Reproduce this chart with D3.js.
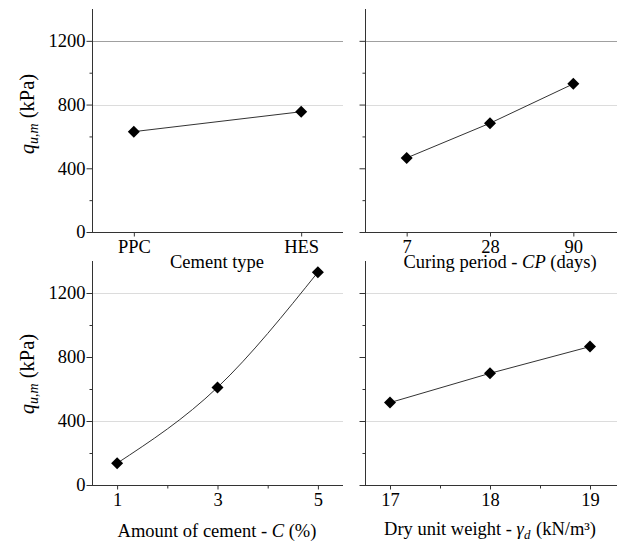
<!DOCTYPE html>
<html><head><meta charset="utf-8">
<script src="https://cdn.jsdelivr.net/npm/d3@7"></script>
<style>
html,body{margin:0;padding:0;background:#fff;}
svg{display:block;}
svg text{font-family:"Liberation Serif","Times New Roman","DejaVu Serif",serif !important;}
</style></head>
<body><svg id="c" width="617" height="544"></svg>
<script>
// ---- data ----
const cementTypes = ["PPC", "HES"];
const cementTypeValues = [630, 755];
const curingPeriods = ["7", "28", "90"];
const curingValues = [465, 683, 930];
const cementAmounts = [1, 3, 5];
const cementAmountValues = [136, 610, 1330];
const dryUnitWeights = [17, 18, 19];
const dryUnitWeightValues = [515, 698, 865];
const yMajorTicks = [0, 400, 800, 1200];
const yMinorTicks = [200, 600, 1000];
const cementAmountMinorTicks = [2, 4];
const dryUnitWeightMinorTicks = [17.5, 18.5];

const svg = d3.select("#c");
const FS = 18.5;

const rows = [
  {top: 9, bottom: 232, grids: [{v:1200, c:"#a0a0a0"}, {v:800, c:"#dcdcdc"}], ylabY: 114},
  {top: 261, bottom: 485, grids: [{v:1200, c:"#dcdcdc"}, {v:400, c:"#dcdcdc"}], ylabY: 374}
];
const cols = [{left: 92, right: 343}, {left: 365, right: 615}];

const panels = [
  {row:0, col:0, type:"point", cats: cementTypes, vals: cementTypeValues, pad: 0.25,
   label: [{t:"Cement type"}], labY: 268, labX: 217, curve: d3.curveLinear, yLabels: true},
  {row:0, col:1, type:"point", cats: curingPeriods, vals: curingValues, pad: 0.5,
   label: [{t:"Curing period - "},{t:"CP", i:true},{t:" (days)"}], labY: 268, labX: 500, curve: d3.curveLinear, yLabels: false},
  {row:1, col:0, type:"linear", xs: cementAmounts, vals: cementAmountValues, dom: [0.5, 5.5], minor: cementAmountMinorTicks,
   label: [{t:"Amount of cement - "},{t:"C", i:true},{t:" (%)"}], labY: 537, labX: 217, curve: d3.curveMonotoneX, yLabels: true},
  {row:1, col:1, type:"linear", xs: dryUnitWeights, vals: dryUnitWeightValues, dom: [16.75, 19.25], minor: dryUnitWeightMinorTicks,
   label: [{t:"Dry unit weight - "},{t:"γ", i:true},{t:"d", i:true, sub:true},{t:" (kN/m³)", up:true}], labY: 535, labX: 490, curve: d3.curveLinear, yLabels: false}
];

const axisColor = "#333";

panels.forEach(p => {
  const r = rows[p.row], c = cols[p.col];
  const y = d3.scaleLinear().domain([0, 1400]).range([r.bottom, r.top]);
  let x, pts, tickVals, fmt;
  if (p.type === "point") {
    x = d3.scalePoint().domain(p.cats).range([c.left, c.right]).padding(p.pad);
    pts = p.cats.map((k, i) => [x(k), y(p.vals[i])]);
    tickVals = p.cats;
    fmt = d => d;
  } else {
    x = d3.scaleLinear().domain(p.dom).range([c.left, c.right]);
    pts = p.xs.map((k, i) => [x(k), y(p.vals[i])]);
    tickVals = p.xs;
    fmt = d3.format("d");
  }
  const g = svg.append("g");
  const xEnd = c.right + (p.col === 1 ? 2 : 0);

  // grid lines
  r.grids.forEach(gl => {
    const yy = Math.round(y(gl.v)) + 0.5;
    g.append("line").attr("x1", c.left).attr("x2", xEnd)
      .attr("y1", yy).attr("y2", yy)
      .attr("stroke", gl.c).attr("stroke-width", 1);
  });

  // y axis
  const ya = d3.axisLeft(y).tickValues(yMajorTicks).tickSize(6).tickPadding(1)
    .tickFormat(p.yLabels ? d3.format("d") : () => "");
  const yg = g.append("g").attr("transform", `translate(${c.left + 0.5},0)`).call(ya)
    .attr("font-family", null).attr("font-size", null);
  yg.select(".domain").attr("d", `M0,${r.top}V${r.bottom}`).attr("stroke", axisColor);
  yg.selectAll(".tick line").attr("stroke", axisColor);
  yg.selectAll(".tick text").attr("font-size", FS).attr("fill", "#000");
  const ym = d3.axisLeft(y).tickValues(yMinorTicks).tickSize(3).tickFormat(() => "");
  const ymg = g.append("g").attr("transform", `translate(${c.left + 0.5},0)`).call(ym);
  ymg.select(".domain").remove();
  ymg.selectAll(".tick line").attr("stroke", axisColor);

  // x axis
  const xa = d3.axisBottom(x).tickValues(tickVals).tickSize(4).tickPadding(3).tickFormat(fmt);
  const xg = g.append("g").attr("transform", `translate(0,${r.bottom + 0.5})`).call(xa)
    .attr("font-family", null).attr("font-size", null);
  xg.select(".domain").attr("d", `M${c.left},0H${xEnd}`).attr("stroke", axisColor);
  xg.selectAll(".tick line").attr("stroke", axisColor);
  xg.selectAll(".tick text").attr("font-size", FS).attr("fill", "#000");
  if (p.minor) {
    const xm = d3.axisBottom(x).tickValues(p.minor).tickSize(3).tickFormat(() => "");
    const xmg = g.append("g").attr("transform", `translate(0,${r.bottom + 0.5})`).call(xm);
    xmg.select(".domain").remove();
    xmg.selectAll(".tick line").attr("stroke", axisColor);
  }

  // x label
  const t = g.append("text").attr("x", p.labX).attr("y", p.labY).attr("text-anchor", "middle")
    .attr("font-size", FS).attr("fill", "#000");
  p.label.forEach(s => {
    const ts = t.append("tspan").text(s.t);
    if (s.i) ts.attr("font-style", "italic");
    if (s.sub) ts.attr("font-size", FS * 0.7).attr("dy", 4);
    if (s.up) ts.attr("dy", -4).attr("dx", 1);
  });

  // y label
  if (p.yLabels) {
    const yl = g.append("text").attr("transform", `translate(34,${r.ylabY}) rotate(-90)`)
      .attr("text-anchor", "middle").attr("font-size", 20.5).attr("fill", "#000");
    yl.append("tspan").text("q").attr("font-style", "italic");
    yl.append("tspan").text("u,m").attr("font-style", "italic").attr("font-size", 14).attr("dy", 4);
    yl.append("tspan").text(" (kPa)").attr("dy", -4);
  }

  // line
  g.append("path").datum(pts).attr("fill", "none").attr("stroke", "#333").attr("stroke-width", 1)
    .attr("d", d3.line().curve(p.curve));

  // markers
  g.selectAll("path.m").data(pts).join("path").attr("class", "m")
    .attr("d", d3.symbol().type(d3.symbolSquare).size(72))
    .attr("transform", d => `translate(${d[0]},${d[1]}) rotate(45)`)
    .attr("fill", "#000");
});
</script></body></html>
